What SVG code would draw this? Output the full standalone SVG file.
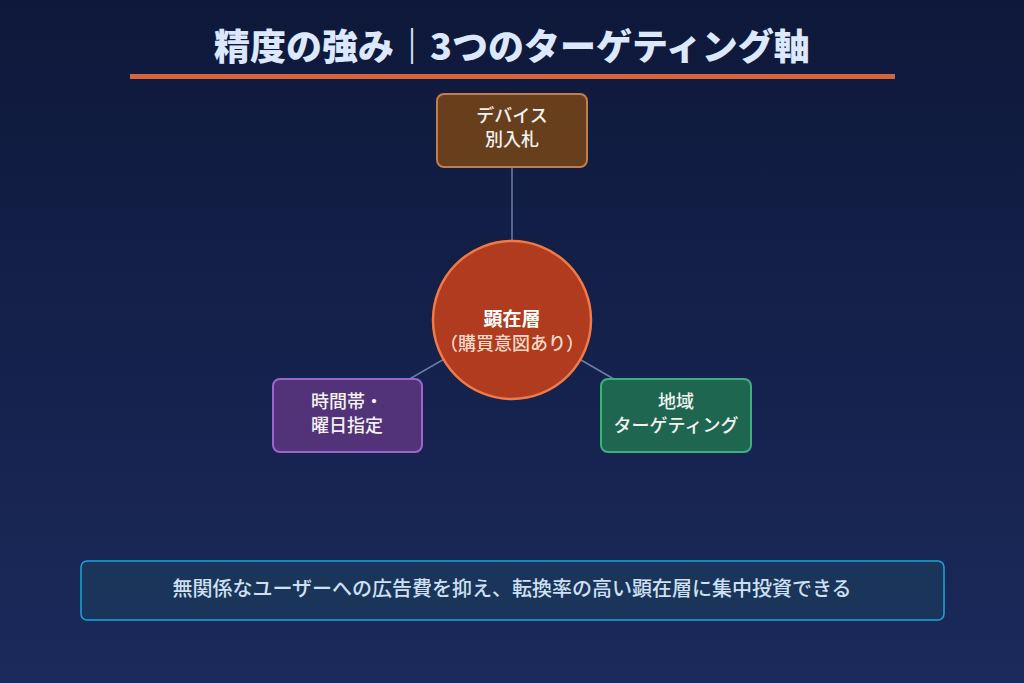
<svg xmlns="http://www.w3.org/2000/svg" width="1024" height="683" viewBox="0 0 1024 683">
<defs>
<linearGradient id="bg" x1="0" y1="0" x2="0" y2="1">
<stop offset="0" stop-color="#0e183a"/>
<stop offset="1" stop-color="#1b2a5c"/>
</linearGradient>
<style>
.t{font-family:"Noto Sans CJK JP","Noto Sans",sans-serif;text-anchor:middle}
.title{font-size:36px;font-weight:900;fill:#dce8ff}
.lbl{font-size:18px;font-weight:500;fill:#f2f2f2}
.conn line{stroke:#6a7ea8;stroke-width:1.5}
</style>
</defs>
<rect width="1024" height="683" fill="url(#bg)"/>
<g id="title">
<text class="t title" x="512" y="60">精度の強み｜3つのターゲティング軸</text>
<rect x="130" y="74" width="765" height="5" fill="#d8653a"/>
</g>
<g id="connectors" class="conn">
<line x1="512" y1="320" x2="512" y2="130"/>
<line x1="512" y1="320" x2="347" y2="415"/>
<line x1="512" y1="320" x2="676" y2="415"/>
</g>
<g id="device">
<rect x="437" y="94" width="150" height="73" rx="7" fill="#683f1d" stroke="#c47d49" stroke-width="2"/>
<text class="t lbl" x="512" y="122">デバイス</text>
<text class="t lbl" x="512" y="146">別入札</text>
</g>
<g id="center">
<circle cx="512" cy="320" r="79" fill="#b13b1e" stroke="#f07a45" stroke-width="2.5"/>
<text class="t" x="512" y="326" font-size="19" font-weight="700" fill="#ffffff">顕在層</text>
<text class="t" x="512" y="350" font-size="18" font-weight="500" fill="#ffd9c8">（購買意図あり）</text>
</g>
<g id="time">
<rect x="273" y="379" width="149" height="73" rx="7" fill="#52337a" stroke="#9c66c9" stroke-width="2"/>
<text class="t lbl" x="347" y="408">時間帯・</text>
<text class="t lbl" x="347" y="432">曜日指定</text>
</g>
<g id="region">
<rect x="601" y="379" width="150" height="73" rx="7" fill="#1f6651" stroke="#3cb17f" stroke-width="2"/>
<text class="t lbl" x="676" y="408">地域</text>
<text class="t lbl" x="676" y="432">ターゲティング</text>
</g>
<g id="note">
<rect x="81" y="561" width="863" height="59" rx="6" fill="#1b3459" stroke="#1fa4d8" stroke-width="1.5"/>
<text class="t" x="512" y="596" font-size="20" font-weight="500" fill="#cde0f5">無関係なユーザーへの広告費を抑え、転換率の高い顕在層に集中投資できる</text>
</g>
</svg>
